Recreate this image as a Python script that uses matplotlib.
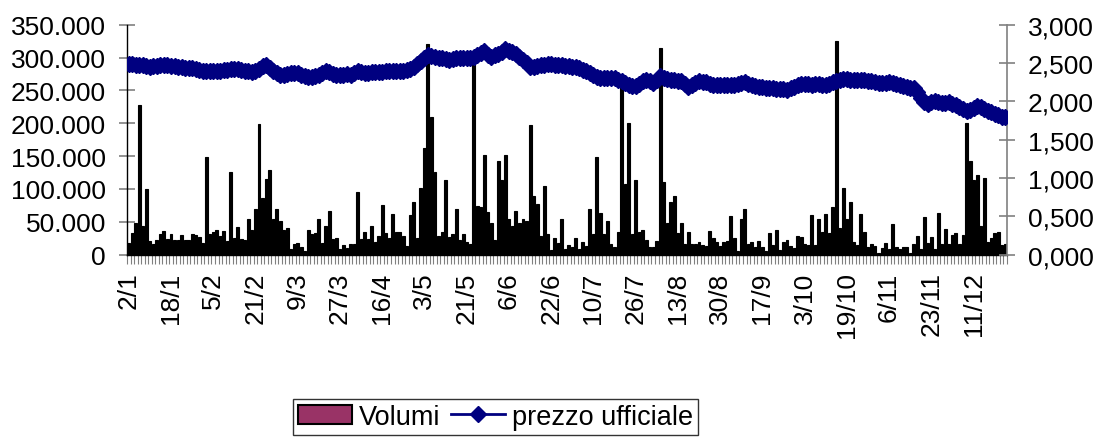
import numpy as np
import matplotlib
matplotlib.use("Agg")
import matplotlib.pyplot as plt
from matplotlib.patches import Patch
from matplotlib.lines import Line2D
from matplotlib.ticker import FuncFormatter, MultipleLocator

plt.rcParams['font.family'] = ['Liberation Sans', 'DejaVu Sans']

# ---- data (2001 trading days) ----
tick_labels = ["2/1", "18/1", "5/2", "21/2", "9/3", "27/3", "16/4", "3/5", "21/5", "6/6",
               "22/6", "10/7", "26/7", "13/8", "30/8", "17/9", "3/10", "19/10", "6/11",
               "23/11", "11/12"]
label_step = 12

volumi_k = [
    18, 33, 48, 228, 43, 100, 21, 16, 23, 31,
    36, 24, 31, 22, 23, 30, 23, 23, 32, 30,
    27, 18, 148, 32, 34, 37, 29, 36, 21, 126,
    26, 42, 24, 22, 54, 38, 69, 199, 86, 115,
    129, 55, 70, 52, 37, 41, 9, 16, 18, 11,
    6, 38, 32, 33, 55, 18, 44, 66, 24, 26,
    8, 15, 10, 16, 17, 95, 24, 35, 24, 43,
    19, 28, 75, 33, 25, 62, 35, 34, 28, 14,
    60, 80, 26, 102, 162, 321, 210, 126, 29, 35,
    113, 27, 31, 70, 23, 31, 20, 16, 300, 74,
    73, 152, 65, 49, 22, 143, 114, 152, 54, 43,
    66, 49, 54, 51, 197, 89, 77, 28, 104, 32,
    7, 25, 18, 55, 8, 15, 12, 26, 8, 20,
    14, 69, 31, 148, 63, 32, 52, 17, 12, 35,
    265, 107, 200, 32, 113, 35, 37, 23, 11, 12,
    21, 315, 110, 49, 80, 90, 33, 49, 16, 34,
    16, 16, 19, 15, 13, 36, 25, 19, 13, 20,
    21, 59, 25, 5, 55, 70, 17, 19, 12, 21,
    11, 6, 33, 15, 37, 7, 19, 23, 13, 10,
    28, 27, 17, 15, 61, 15, 54, 34, 62, 33,
    72, 325, 41, 102, 54, 80, 20, 15, 62, 35,
    12, 16, 14, 3, 10, 18, 9, 46, 11, 9,
    11, 11, 3, 16, 29, 9, 57, 18, 27, 9,
    64, 17, 39, 17, 30, 33, 16, 30, 200, 143,
    114, 122, 43, 116, 20, 26, 33, 35, 15, 16,
]

prezzo_ufficiale = [
    2.49, 2.49, 2.48, 2.48, 2.47, 2.46, 2.45, 2.46, 2.46, 2.47,
    2.48, 2.47, 2.46, 2.46, 2.45, 2.45, 2.44, 2.44, 2.43, 2.42,
    2.41, 2.40, 2.39, 2.39, 2.40, 2.39, 2.40, 2.41, 2.41, 2.42,
    2.42, 2.42, 2.41, 2.40, 2.39, 2.38, 2.40, 2.42, 2.46, 2.47,
    2.43, 2.40, 2.37, 2.35, 2.35, 2.36, 2.37, 2.365, 2.37, 2.35,
    2.33, 2.32, 2.32, 2.33, 2.34, 2.37, 2.40, 2.38, 2.36, 2.35,
    2.35, 2.35, 2.36, 2.35, 2.37, 2.39, 2.38, 2.37, 2.37, 2.38,
    2.38, 2.38, 2.38, 2.39, 2.39, 2.39, 2.395, 2.40, 2.40, 2.41,
    2.42, 2.45, 2.49, 2.53, 2.57, 2.60, 2.59, 2.58, 2.57, 2.56,
    2.55, 2.535, 2.55, 2.56, 2.57, 2.57, 2.56, 2.56, 2.58, 2.61,
    2.63, 2.655, 2.61, 2.575, 2.60, 2.62, 2.65, 2.68, 2.66, 2.64,
    2.62, 2.58, 2.54, 2.50, 2.45, 2.45, 2.46, 2.475, 2.48, 2.49,
    2.49, 2.48, 2.475, 2.47, 2.465, 2.46, 2.45, 2.445, 2.43, 2.41,
    2.39, 2.37, 2.34, 2.32, 2.31, 2.30, 2.30, 2.30, 2.31, 2.28,
    2.26, 2.24, 2.22, 2.20, 2.20, 2.23, 2.26, 2.28, 2.26, 2.24,
    2.28, 2.335, 2.31, 2.29, 2.28, 2.28, 2.27, 2.27, 2.23, 2.19,
    2.21, 2.24, 2.26, 2.255, 2.25, 2.23, 2.22, 2.21, 2.21, 2.22,
    2.22, 2.22, 2.22, 2.23, 2.24, 2.25, 2.23, 2.21, 2.20, 2.19,
    2.185, 2.18, 2.175, 2.17, 2.165, 2.16, 2.155, 2.15, 2.17, 2.19,
    2.21, 2.225, 2.23, 2.23, 2.22, 2.23, 2.23, 2.22, 2.215, 2.23,
    2.25, 2.265, 2.28, 2.29, 2.29, 2.285, 2.28, 2.28, 2.285, 2.28,
    2.27, 2.26, 2.25, 2.24, 2.235, 2.24, 2.25, 2.24, 2.23, 2.21,
    2.20, 2.19, 2.18, 2.175, 2.12, 2.05, 1.99, 1.965, 1.99, 2.01,
    1.99, 1.975, 1.98, 1.99, 1.97, 1.95, 1.93, 1.90, 1.87, 1.89,
    1.92, 1.945, 1.93, 1.90, 1.88, 1.86, 1.84, 1.82, 1.80, 1.80,
]

volumi = np.array(volumi_k) * 1000
N = len(volumi)
x = np.arange(N)

FS = 19
W, H = 1094, 439
fig = plt.figure(figsize=(W / 100, H / 100), dpi=100)
ax = fig.add_axes([127 / W, 1 - 255.7 / H, (1007 - 127) / W, (255.7 - 25.7) / H])
ax2 = ax.twinx()

ax.bar(x, volumi, width=0.85, color='black', edgecolor='black', linewidth=0.8, zorder=2)
line, = ax2.plot(x, prezzo_ufficiale, color='#000080', lw=2.0, marker='D', ms=8.5,
                 mfc='#000080', mec='#000080', zorder=3)

ax.set_xlim(-0.5, N - 0.5)
ax.set_ylim(0, 350000)
ax2.set_ylim(0, 3.0)

ax.yaxis.set_major_locator(MultipleLocator(50000))
ax2.yaxis.set_major_locator(MultipleLocator(0.5))
ax.yaxis.set_major_formatter(FuncFormatter(lambda v, p: "0" if v == 0 else f"{int(round(v)):,}".replace(",", ".")))
ax2.yaxis.set_major_formatter(FuncFormatter(lambda v, p: f"{v:.3f}".replace(".", ",")))

# x ticks: marks at each category boundary, labels every 12 days
ax.set_xticks(np.arange(N + 1) - 0.5, minor=True)
ax.set_xticks(np.arange(0, N, label_step)[:len(tick_labels)])
ax.set_xticklabels(tick_labels, rotation=90, fontsize=FS)
ax.tick_params(axis='x', which='major', length=0, pad=12)
ax.tick_params(axis='x', which='minor', length=6.5, width=0.8, color='#808080', direction='out')

ax.tick_params(axis='y', which='major', direction='inout', length=11.5, width=1.2,
               color='#808080', labelsize=FS, pad=9.3)
ax2.tick_params(axis='y', which='major', direction='inout', length=11.5, width=1.2,
                color='#808080', labelsize=FS, pad=9.3)

for a in (ax, ax2):
    a.spines['top'].set_visible(False)
    a.set_facecolor('none')
ax.spines['right'].set_visible(False)
ax2.spines['left'].set_visible(False)
ax2.spines['bottom'].set_visible(False)
ax.spines['left'].set_color('black')
ax.spines['left'].set_linewidth(1.0)
ax.spines['bottom'].set_color('black')
ax.spines['bottom'].set_linewidth(1.0)
ax2.spines['right'].set_color('#808080')
ax2.spines['right'].set_linewidth(1.2)

handles = [Patch(facecolor='#993366', edgecolor='black', linewidth=1.5),
           Line2D([], [], color='#000080', lw=2.0, marker='D', ms=8.5,
                  mfc='#000080', mec='#000080')]
leg = fig.legend(handles, ["Volumi", "prezzo ufficiale"], loc='upper left',
                 bbox_to_anchor=(293 / W, 1 - 400 / H), ncol=2, fontsize=19.5,
                 frameon=True, fancybox=False, shadow=False, borderpad=0.18,
                 handlelength=2.0, handleheight=0.75, handletextpad=0.25,
                 columnspacing=0.4, borderaxespad=0, numpoints=1)
leg.get_frame().set_edgecolor('black')
leg.get_frame().set_linewidth(1.0)

fig.savefig("out.png", dpi=100)
